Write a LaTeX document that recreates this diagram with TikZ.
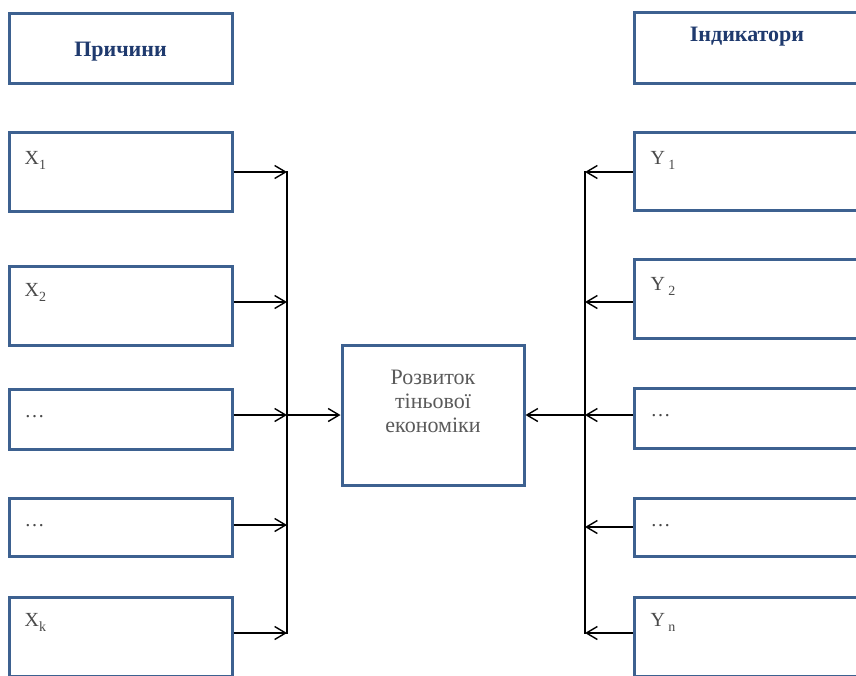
\documentclass[tikz,border=0pt]{standalone}
\usepackage{fontspec}
\setmainfont{Liberation Serif}
\usetikzlibrary{arrows.meta,calc}
\definecolor{boxblue}{HTML}{3D6190}
\definecolor{headnavy}{HTML}{1F3A6E}
\definecolor{labelgray}{HTML}{4A4A4A}
\definecolor{midgray}{HTML}{5A5A5A}
\newcommand{\lowsub}[1]{\raisebox{-5pt}{\fontsize{14}{14}\selectfont #1}}
\tikzset{
  box/.style={draw=boxblue, line width=3pt, fill=white, inner sep=0pt},
  headtext/.style={font=\fontsize{22}{24}\selectfont\bfseries, text=headnavy},
  itemlabel/.style={font=\fontsize{20}{22}\selectfont, text=labelgray, anchor=base west, inner sep=0pt},
  centertext/.style={font=\fontsize{22}{24}\selectfont, text=midgray, align=center, inner sep=0pt},
  flow/.style={line width=1.4pt, -{Straight Barb[length=11pt,width=13pt,line width=1.4pt]}},
  bus/.style={line width=1.4pt}
}
\begin{document}
\begin{tikzpicture}[x=1pt,y=-1pt]
  \useasboundingbox (0,0) rectangle (856,675);
  \clip (0,0) rectangle (856,675);

  % left column: causes
  \node[box, minimum width=223pt, minimum height=70pt] (hL) at (120.5,48) {};
  \node[headtext, anchor=base] (thL) at ($(hL.north)+(0,45)$) {Причини};
  \node[box, minimum width=223pt, minimum height=79pt] (x1) at (120.5,171.5) {};
  \node[box, minimum width=223pt, minimum height=79pt] (x2) at (120.5,305.5) {};
  \node[box, minimum width=223pt, minimum height=60pt] (xd1) at (120.5,419) {};
  \node[box, minimum width=223pt, minimum height=58pt] (xd2) at (120.5,527) {};
  \node[box, minimum width=223pt, minimum height=79pt] (xk) at (120.5,636.5) {};

  \node[itemlabel] (tx1) at ($(x1.north west)+(17,34)$) {X\lowsub{1}};
  \node[itemlabel] (tx2) at ($(x2.north west)+(17,32)$) {X\lowsub{2}};
  \node[itemlabel] (txd1) at ($(xd1.north west)+(17,30)$) {\ldots};
  \node[itemlabel] (txd2) at ($(xd2.north west)+(17,30)$) {\ldots};
  \node[itemlabel] (txk) at ($(xk.north west)+(17,31)$) {X\lowsub{k}};

  % right column: indicators
  \node[box, minimum width=226pt, minimum height=71pt] (hR) at (747,47.5) {};
  \node[headtext, anchor=base] (thR) at ($(hR.north)+(0,31)$) {Індикатори};
  \node[box, minimum width=226pt, minimum height=78pt] (y1) at (747,171) {};
  \node[box, minimum width=226pt, minimum height=79pt] (y2) at (747,298.5) {};
  \node[box, minimum width=226pt, minimum height=60pt] (yd1) at (747,418) {};
  \node[box, minimum width=226pt, minimum height=58pt] (yd2) at (747,527) {};
  \node[box, minimum width=226pt, minimum height=79pt] (yn) at (747,636.5) {};

  \node[itemlabel] (ty1) at ($(y1.north west)+(18,34)$) {Y\,\lowsub{1}};
  \node[itemlabel] (ty2) at ($(y2.north west)+(18,33)$) {Y\,\lowsub{2}};
  \node[itemlabel] (tyd1) at ($(yd1.north west)+(18,30)$) {\ldots};
  \node[itemlabel] (tyd2) at ($(yd2.north west)+(18,30)$) {\ldots};
  \node[itemlabel] (tyn) at ($(yn.north west)+(18,31)$) {Y\,\lowsub{n}};

  % central box
  \node[box, minimum width=182pt, minimum height=140pt] (core) at (433,415) {};
  \node[centertext, anchor=north] (tcore) at ($(core.north)+(0,26)$) {Розвиток\\тіньової\\економіки};

  % collecting buses
  \coordinate (bL1) at (287,172);
  \coordinate (bL2) at (287,302);
  \coordinate (bL3) at (287,415);
  \coordinate (bL4) at (287,525);
  \coordinate (bL5) at (287,633);
  \coordinate (bR1) at (585,172);
  \coordinate (bR2) at (585,302);
  \coordinate (bR3) at (585,415);
  \coordinate (bR4) at (585,527);
  \coordinate (bR5) at (585,633);

  \draw[bus] ($(bL1)+(0,-1)$) -- ($(bL5)+(0,1)$);
  \draw[bus] ($(bR1)+(0,-1)$) -- ($(bR5)+(0,1)$);

  \draw[flow] (x1.east |- bL1) -- (bL1);
  \draw[flow] (x2.east |- bL2) -- (bL2);
  \draw[flow] (xd1.east |- bL3) -- (bL3);
  \draw[flow] (xd2.east |- bL4) -- (bL4);
  \draw[flow] (xk.east |- bL5) -- (bL5);
  \draw[flow] (bL3) -- (core.west |- bL3);

  \draw[flow] (y1.west |- bR1) -- (bR1);
  \draw[flow] (y2.west |- bR2) -- (bR2);
  \draw[flow] (yd1.west |- bR3) -- (bR3);
  \draw[flow] (yd2.west |- bR4) -- (bR4);
  \draw[flow] (yn.west |- bR5) -- (bR5);
  \draw[flow] (bR3) -- (core.east |- bR3);
\end{tikzpicture}
\end{document}
